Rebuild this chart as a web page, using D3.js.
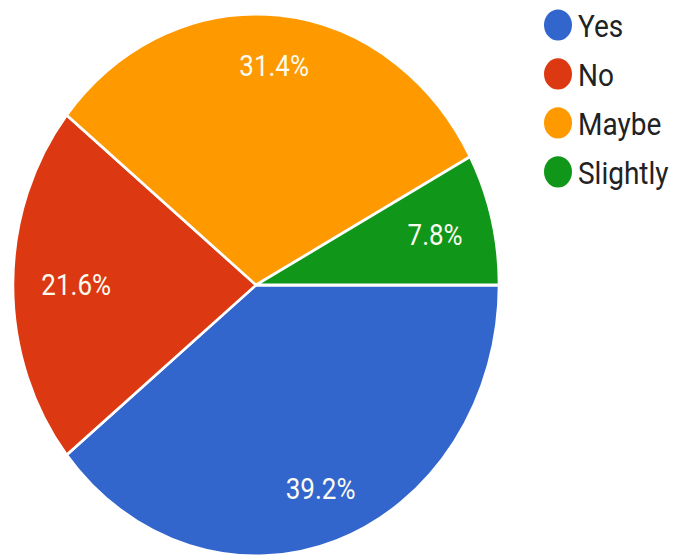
<!DOCTYPE html>
<html><head><meta charset="utf-8">
<script src="https://cdn.jsdelivr.net/npm/d3@7"></script>
<style>html,body{margin:0;padding:0;background:#fff;}svg{display:block;}</style>
</head><body>
<svg id="c" width="676" height="559"></svg>
<script>
const categories = ["Yes", "No", "Maybe", "Slightly"];
const counts = [20, 11, 16, 4];
const percentLabels = ["39.2%", "21.6%", "31.4%", "7.8%"];
const colors = ["#3366CC", "#DC3912", "#FF9900", "#109618"];

const W = 676, H = 559;
const sy = 1.115;              // reference image is vertically stretched
const R = 243;
const cx = 256, cy = 285 / sy;

const svg = d3.select("#c");
const root = svg.append("g").attr("transform", `scale(1,${sy})`);

const pie = d3.pie().sort(null).value(d => d)
  .startAngle(Math.PI / 2).endAngle(Math.PI / 2 + 2 * Math.PI);
const arcs = pie(counts);
const arc = d3.arc().innerRadius(0).outerRadius(R);
const color = d3.scaleOrdinal().domain(categories).range(colors);

const g = root.append("g").attr("transform", `translate(${cx},${cy})`);
g.selectAll("path").data(arcs).join("path")
  .attr("d", arc)
  .attr("fill", (d, i) => color(categories[i]))
  .attr("stroke", "#fff").attr("stroke-width", 2.5)
  .attr("stroke-linejoin", "round");

// label placement (inside slice, along the bisector)
const labelRadius = { "Yes": 0.80, "No": 0.74, "Maybe": 0.81, "Slightly": 0.76 };
g.selectAll("text.lbl").data(arcs).join("text")
  .attr("class", "lbl")
  .each(function(d, i) {
    const a = (d.startAngle + d.endAngle) / 2;
    const r = R * labelRadius[categories[i]];
    d3.select(this).attr("x", Math.sin(a) * r).attr("y", -Math.cos(a) * r);
  })
  .attr("text-anchor", "middle").attr("dominant-baseline", "central")
  .attr("font-family", "Roboto, Arial, sans-serif").attr("font-size", 26)
  .attr("fill", "#fbfbf0")
  .text((d, i) => percentLabels[i]);

// legend
const leg = root.append("g").attr("transform", `translate(558, ${25 / sy})`);
const rows = leg.selectAll("g").data(categories).join("g")
  .attr("transform", (d, i) => `translate(0, ${i * 43.9})`);
rows.append("circle").attr("r", 14).attr("fill", d => color(d));
rows.append("text").attr("x", 20).attr("y", 10.5)
  .attr("font-family", "Roboto, Arial, sans-serif").attr("font-size", 28)
  .attr("fill", "#222").text(d => d);
</script>
</body></html>
